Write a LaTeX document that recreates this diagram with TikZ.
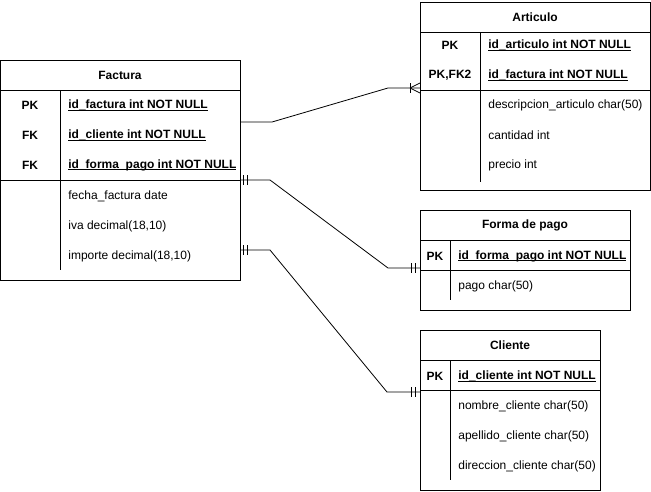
\documentclass[tikz,border=0pt]{standalone}
\usepackage{fontspec}
\setmainfont{Liberation Sans}
\usetikzlibrary{calc}

\newcommand{\keyname}[1]{\setbox0\hbox{\bfseries #1}\rlap{\rule[-2pt]{\wd0}{0.8pt}}\box0}

\begin{document}
\begin{tikzpicture}[
	x=1pt,
	y=-1pt,
	line width=0.8pt,
	font=\fontsize{12}{14}\selectfont,
	title/.style={
		font=\fontsize{12}{14}\selectfont\bfseries,
		inner sep=0pt
	},
	key/.style={
		font=\fontsize{12}{14}\selectfont\bfseries,
		inner sep=0pt
	},
	field/.style={
		anchor=west,
		inner sep=0pt
	}
]
\useasboundingbox (0,0) rectangle (651,491);

% Factura
\draw (0,60) rectangle (240,280);
\draw (0,90) -- (240,90);
\draw (0,180) -- (240,180);
\draw (60,90) -- (60,270);
\node[title] (factura) at (120,75) {Factura};
\node[key] (factura-k1) at (30,105) {PK};
\node[key] (factura-k2) at (30,135) {FK};
\node[key] (factura-k3) at (30,165) {FK};
\node[field] (factura-f1) at (68,105) {\keyname{id\_factura int NOT NULL}};
\node[field] (factura-f2) at (68,135) {\keyname{id\_cliente int NOT NULL}};
\node[field] (factura-f3) at (68,165) {\keyname{id\_forma\_pago int NOT NULL}};
\node[field] (factura-f4) at (68,196) {fecha\_factura date};
\node[field] (factura-f5) at (68,226) {iva decimal(18,10)};
\node[field] (factura-f6) at (68,256) {importe decimal(18,10)};

% Articulo
\draw (420,2) rectangle (650,190);
\draw (420,32) -- (650,32);
\draw (420,90) -- (650,90);
\draw (480,32) -- (480,182);
\node[title] (articulo) at (535,17) {Articulo};
\node[key] (articulo-k1) at (450,45) {PK};
\node[key] (articulo-k2) at (450,75) {PK,FK2};
\node[field] (articulo-f1) at (488,45) {\keyname{id\_articulo int NOT NULL}};
\node[field] (articulo-f2) at (488,75) {\keyname{id\_factura int NOT NULL}};
\node[field] (articulo-f3) at (488,105) {descripcion\_articulo char(50)};
\node[field] (articulo-f4) at (488,135) {cantidad int};
\node[field] (articulo-f5) at (488,165) {precio int};

% Forma de pago
\draw (420,210) rectangle (630,310);
\draw (420,240) -- (630,240);
\draw (420,270) -- (630,270);
\draw (450,240) -- (450,300);
\node[title] (formapago) at (525,225) {Forma de pago};
\node[key] (formapago-k1) at (435,256) {PK};
\node[field] (formapago-f1) at (458,256) {\keyname{id\_forma\_pago int NOT NULL}};
\node[field] (formapago-f2) at (458,286) {pago char(50)};

% Cliente
\draw (420,330) rectangle (600,490);
\draw (420,360) -- (600,360);
\draw (420,390) -- (600,390);
\draw (450,360) -- (450,480);
\node[title] (cliente) at (510,345) {Cliente};
\node[key] (cliente-k1) at (435,376) {PK};
\node[field] (cliente-f1) at (458,376) {\keyname{id\_cliente int NOT NULL}};
\node[field] (cliente-f2) at (458,406) {nombre\_cliente char(50)};
\node[field] (cliente-f3) at (458,436) {apellido\_cliente char(50)};
\node[field] (cliente-f4) at (458,466) {direccion\_cliente char(50)};

% relaciones
\coordinate (fa-art) at (240,122);
\coordinate (art-fa) at (420,88);
\coordinate (fa-fp) at (240,180);
\coordinate (fp-fa) at (420,268);
\coordinate (fa-cl) at (240,250);
\coordinate (cl-fa) at (420,392);

\draw (fa-art) -- ++(32,0) -- ($(art-fa)+(-32,0)$) -- (art-fa);
\draw ($(art-fa)+(-10,-5)$) -- ++(0,10);
\draw ($(art-fa)+(-10,0)$) -- ($(art-fa)+(0,-5)$);
\draw ($(art-fa)+(-10,0)$) -- ($(art-fa)+(0,5)$);

\draw (fa-fp) -- ++(30,0) -- ($(fp-fa)+(-32,0)$) -- (fp-fa);
\draw ($(fa-fp)+(3,-5)$) -- ++(0,10);
\draw ($(fa-fp)+(7,-5)$) -- ++(0,10);
\draw ($(fp-fa)+(-9,-5)$) -- ++(0,10);
\draw ($(fp-fa)+(-5,-5)$) -- ++(0,10);

\draw (fa-cl) -- ++(30,0) -- ($(cl-fa)+(-33,0)$) -- (cl-fa);
\draw ($(fa-cl)+(3,-5)$) -- ++(0,10);
\draw ($(fa-cl)+(7,-5)$) -- ++(0,10);
\draw ($(cl-fa)+(-9,-5)$) -- ++(0,10);
\draw ($(cl-fa)+(-5,-5)$) -- ++(0,10);

\end{tikzpicture}
\end{document}
